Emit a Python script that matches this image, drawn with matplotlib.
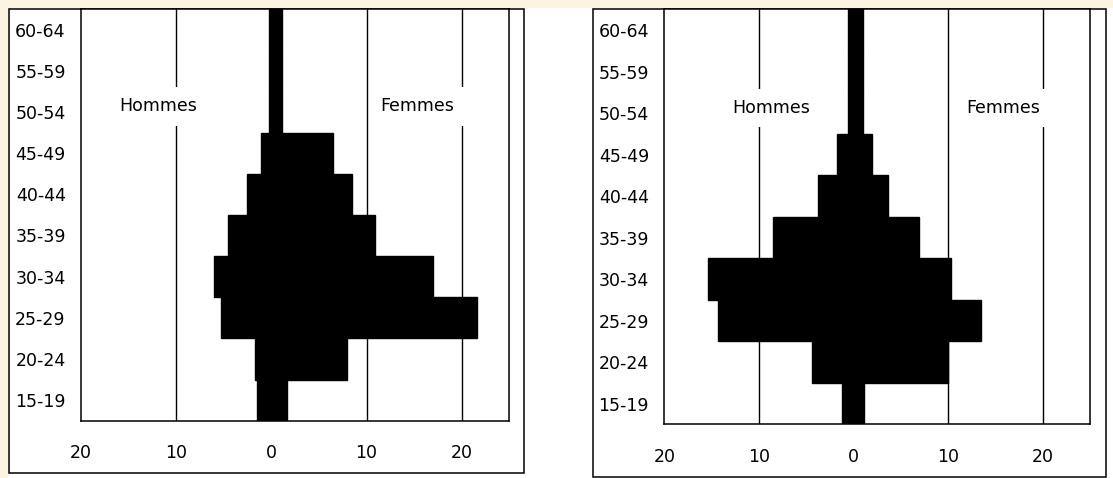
import matplotlib
matplotlib.use("Agg")
import numpy as np
import matplotlib.pyplot as plt
from matplotlib.patches import Rectangle

# ── Data (% of population by age group) ──────────────────────────────────────
AGE_GROUPS = ["15-19", "20-24", "25-29", "30-34", "35-39",
              "40-44", "45-49", "50-54", "55-59", "60-64"]

LEFT_MEN   = [1.5, 1.7, 5.3, 6.0, 4.6, 2.6, 1.05, 0.3, 0.3, 0.3]
LEFT_WOMEN = [1.6, 8.0, 21.6, 17.0, 10.9, 8.5, 6.5, 1.1, 1.1, 1.1]

RIGHT_MEN   = [1.2, 4.4, 14.3, 15.4, 8.5, 3.8, 1.75, 0.55, 0.55, 0.55]
RIGHT_WOMEN = [1.1, 10.0, 13.5, 10.3, 6.9, 3.6, 2.0, 0.95, 0.95, 0.95]

X_TICKS = [-20, -10, 0, 10, 20]
X_TICK_LABELS = ["20", "10", "0", "10", "20"]
GRID_X = [-10, 10, 20]

FONT = 12.5
CREAM = "#FBF4E2"

W, H = 1113, 478


def fx(px):
    return px / W


def fy(py):
    return 1 - py / H


def draw_pyramid(ax, men, women, hommes_x, femmes_x, label_y):
    men = np.array(men)
    women = np.array(women)
    y = np.arange(len(AGE_GROUPS))
    for gx in GRID_X:
        ax.axvline(gx, color="black", lw=1.0, zorder=1)
    ax.barh(y, men + women, left=-men, height=1.0, align="edge",
            color="black", edgecolor="black", lw=1.0, zorder=3)
    ax.set_xlim(-20, 25)
    ax.set_ylim(0, len(AGE_GROUPS))
    ax.set_yticks(y + 0.5)
    ax.set_yticklabels(AGE_GROUPS, fontsize=FONT)
    ax.set_xticks(X_TICKS)
    ax.set_xticklabels(X_TICK_LABELS, fontsize=FONT)
    ax.tick_params(axis="x", length=0, pad=17)
    ax.tick_params(axis="y", length=0, pad=11)
    for s in ax.spines.values():
        s.set_linewidth(1.1)
    box = dict(boxstyle="square,pad=0.6", facecolor="white", edgecolor="none")
    ax.text(hommes_x, label_y, "Hommes", ha="center", va="center",
            fontsize=FONT, bbox=box, zorder=4)
    ax.text(femmes_x, label_y, "Femmes", ha="center", va="center",
            fontsize=FONT, bbox=box, zorder=4)


fig = plt.figure(figsize=(W / 100, H / 100), dpi=100)
fig.patch.set_facecolor("white")

# cream margin strips (top and left)
fig.add_artist(Rectangle((0, fy(8)), 1, 8 / H, transform=fig.transFigure,
                         facecolor=CREAM, edgecolor="none", zorder=-3))
fig.add_artist(Rectangle((0, 0), fx(8), 1, transform=fig.transFigure,
                         facecolor=CREAM, edgecolor="none", zorder=-3))

# outer frames
fig.add_artist(Rectangle((fx(9.3), fy(473.3)), fx(524 - 9.3), (473.3 - 9) / H,
                         transform=fig.transFigure, facecolor="white",
                         edgecolor="black", lw=1.1, zorder=-2))
fig.add_artist(Rectangle((fx(592.7), fy(476.7)), fx(1106 - 592.7), (476.7 - 9.3) / H,
                         transform=fig.transFigure, facecolor="white",
                         edgecolor="black", lw=1.1, zorder=-2))

ax1 = fig.add_axes([fx(81), fy(420.7), fx(509.3 - 81), (420.7 - 9) / H])
ax2 = fig.add_axes([fx(664.4), fy(424.3), fx(1090 - 664.4), (424.3 - 9.3) / H])

draw_pyramid(ax1, LEFT_MEN, LEFT_WOMEN, -11.9, 15.3, 7.64)
draw_pyramid(ax2, RIGHT_MEN, RIGHT_WOMEN, -8.7, 15.8, 7.62)

fig.savefig("out.png", dpi=100)
